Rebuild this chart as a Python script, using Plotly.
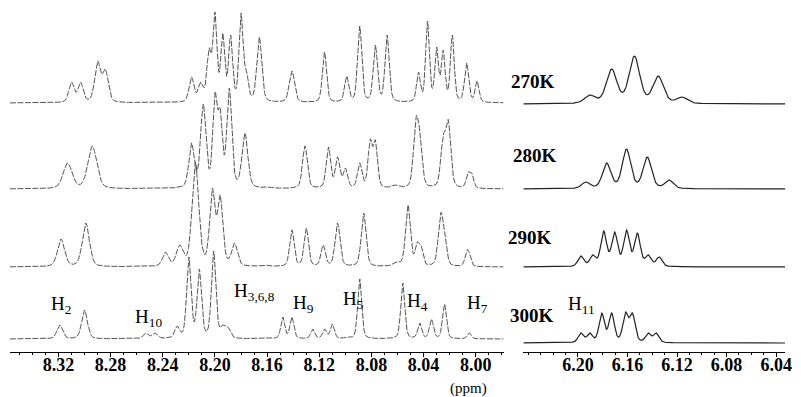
import numpy as np
import plotly.graph_objects as go

# ---------------- data (ppm, peak heights in arbitrary units) ----------------
temps = ["270K", "280K", "290K", "300K"]

# left region 8.36 - 7.98 ppm
pos_270 = [8.310, 8.303, 8.290, 8.284, 8.218, 8.211, 8.2045, 8.200, 8.194, 8.188, 8.180, 8.176,
           8.166, 8.141, 8.116, 8.099, 8.089, 8.077, 8.068, 8.044, 8.037, 8.030, 8.025, 8.018,
           8.007, 7.999]
amp_270 = [21, 21, 42, 34, 26, 21, 55, 91, 70, 68, 90, 34, 66, 32, 51, 27, 77, 58, 68, 31, 82,
           56, 53, 68, 40, 22]
wid_270 = [0.0024, 0.0024, 0.0026, 0.0026, 0.0022, 0.0022, 0.0020, 0.0018, 0.0018, 0.0018, 0.0018,
           0.0018, 0.0022, 0.0024, 0.0019, 0.0019, 0.0019, 0.0019, 0.0019, 0.0017, 0.0017, 0.0017,
           0.0017, 0.0017, 0.0019, 0.0017]

pos_280 = [8.313, 8.294, 8.218, 8.209, 8.200, 8.196, 8.189, 8.177, 8.159, 8.131, 8.113, 8.106,
           8.100, 8.089, 8.081, 8.077, 8.062, 8.046, 8.043, 8.025, 8.021, 8.006, 8.003]
amp_280 = [26, 43, 46, 85, 97, 81, 101, 56, 2, 43, 42, 32, 21, 26, 50, 49, 4, 71, 59, 54, 69,
           17, 16]
wid_280 = [0.0040, 0.0040, 0.0024, 0.0024, 0.0020, 0.0020, 0.0022, 0.0026, 0.0030, 0.0022, 0.0020,
           0.0020, 0.0020, 0.0020, 0.0019, 0.0019, 0.0030, 0.0022, 0.0022, 0.0022, 0.0022, 0.0017,
           0.0017]

pos_290 = [8.318, 8.299, 8.238, 8.227, 8.215, 8.202, 8.196, 8.185, 8.162, 8.141, 8.130, 8.117,
           8.106, 8.086, 8.061, 8.052, 8.045, 8.042, 8.027, 8.024, 8.007, 8.005]
amp_290 = [28, 44, 15, 22, 105, 79, 72, 24, 2, 37, 39, 22, 44, 54, 5, 62, 25, 22, 54, 37, 17, 14]
wid_290 = [0.0032, 0.0032, 0.0026, 0.0030, 0.0030, 0.0024, 0.0024, 0.0026, 0.0030, 0.0020, 0.0020,
           0.0020, 0.0022, 0.0022, 0.0030, 0.0022, 0.0018, 0.0018, 0.0022, 0.0020, 0.0017, 0.0017]

pos_300 = [8.319, 8.300, 8.253, 8.246, 8.229, 8.220, 8.212, 8.201, 8.194, 8.190, 8.148, 8.141,
           8.125, 8.116, 8.110, 8.099, 8.089, 8.056, 8.043, 8.034, 8.024, 8.005]
amp_300 = [14, 29, 6, 6, 13, 82, 70, 88, 14, 12, 22, 22, 10, 10, 15, 2, 60, 56, 16, 20, 35, 6]
wid_300 = [0.0026, 0.0026, 0.0024, 0.0024, 0.0022, 0.0020, 0.0020, 0.0020, 0.0022, 0.0022, 0.0018,
           0.0018, 0.0018, 0.0018, 0.0018, 0.0020, 0.0018, 0.0018, 0.0018, 0.0018, 0.0018, 0.0018]

# right region 6.24 - 6.03 ppm (H11)
pos_r270 = [6.1904, 6.1728, 6.1544, 6.1352, 6.1160]
amp_r270 = [9, 35, 48, 28, 7]
pos_r280 = [6.1936, 6.1768, 6.1608, 6.1440, 6.1264]
amp_r280 = [7, 26, 40, 32, 9]
pos_r290 = [6.1976, 6.1880, 6.1792, 6.1704, 6.1608, 6.1520, 6.1432, 6.1344]
amp_r290 = [11, 12, 36, 35, 37, 34, 12, 10]
pos_r300 = [6.1976, 6.1904, 6.1808, 6.1728, 6.1616, 6.1560, 6.1432, 6.1368]
amp_r300 = [10, 10, 30, 30, 31, 30, 10, 10]
wid_r = [0.0050, 0.0040, 0.0028, 0.0026]

left_ticks = [8.32, 8.28, 8.24, 8.20, 8.16, 8.12, 8.08, 8.04, 8.00]
right_ticks = [6.20, 6.16, 6.12, 6.08, 6.04]

labels = ["H<sub>2</sub>", "H<sub>10</sub>", "H<sub>3,6,8</sub>", "H<sub>9</sub>",
          "H<sub>5</sub>", "H<sub>4</sub>", "H<sub>7</sub>", "H<sub>11</sub>"]
label_ppm = [8.318, 8.251, 8.170, 8.132, 8.094, 8.045, 7.999, 6.197]

# ---------------- helpers ----------------
W, H = 801, 397
AX_Y = 352  # pixel row of the bottom axis line
LEFT_RANGE = [8.3572, 7.9787]
RIGHT_RANGE = [6.2440, 6.0328]


def shape(x, c, w):
    d = (x - c) / w
    lor = 1.0 / (1.0 + d * d)
    gau = np.exp(-np.log(2) * d * d)
    return 0.35 * lor + 0.65 * gau


def spectrum(x, pos, amp, wid):
    pos = np.asarray(pos, float)
    amp = np.asarray(amp, float)
    wid = np.broadcast_to(np.asarray(wid, float), pos.shape)
    M = np.array([[shape(pi, pj, wj) for pj, wj in zip(pos, wid)] for pi in pos])
    a, *_ = np.linalg.lstsq(M, amp, rcond=None)
    a = np.clip(a, 0, None)
    y = np.zeros_like(x)
    for c, A, w in zip(pos, a, wid):
        y += A * shape(x, c, w)
    return y


xl = np.linspace(LEFT_RANGE[0], LEFT_RANGE[1], 2200)
xr = np.linspace(RIGHT_RANGE[0], RIGHT_RANGE[1], 1300)

left_sets = [(pos_270, amp_270, wid_270), (pos_280, amp_280, wid_280),
             (pos_290, amp_290, wid_290), (pos_300, amp_300, wid_300)]
right_sets = [(pos_r270, amp_r270), (pos_r280, amp_r280),
              (pos_r290, amp_r290), (pos_r300, amp_r300)]
base_left = [AX_Y - 103, AX_Y - 189, AX_Y - 267, AX_Y - 339]
base_right = [AX_Y - 104, AX_Y - 189, AX_Y - 267, AX_Y - 343]

fig = go.Figure()
for i, (p, a, w) in enumerate(left_sets):
    fig.add_trace(go.Scatter(x=xl, y=base_left[i] + spectrum(xl, p, a, w), mode="lines",
                             line=dict(color="#555555", width=1, dash="6px,1.5px"),
                             xaxis="x", yaxis="y", showlegend=False, hoverinfo="skip"))
for i, (p, a) in enumerate(right_sets):
    fig.add_trace(go.Scatter(x=xr, y=base_right[i] + spectrum(xr, p, a, wid_r[i]), mode="lines",
                             line=dict(color="#222222", width=1.2),
                             xaxis="x2", yaxis="y", showlegend=False, hoverinfo="skip"))

tickfont = dict(family="Liberation Serif", size=18, color="black", weight="bold")
common_x = dict(showline=True, linecolor="black", linewidth=1.2, ticks="outside", ticklen=4,
                tickcolor="black", showgrid=False, zeroline=False, tickfont=tickfont,
                ticklabelstandoff=-8,
                minor=dict(dtick=0.01, ticks="outside", ticklen=2, tickcolor="black"))

fig.update_layout(
    width=W, height=H, margin=dict(l=0, r=0, t=0, b=H - AX_Y),
    paper_bgcolor="white", plot_bgcolor="white",
    xaxis=dict(domain=[10 / W, 508 / W], range=LEFT_RANGE, anchor="y",
               tickvals=left_ticks, ticktext=[f"{t:.2f}" for t in left_ticks], **common_x),
    xaxis2=dict(domain=[528 / W, 792 / W], range=RIGHT_RANGE, anchor="y",
                tickvals=right_ticks, ticktext=[f"{t:.2f}" for t in right_ticks], **common_x),
    yaxis=dict(range=[0, AX_Y], visible=False, fixedrange=True),
)


def py(ypix):
    return (AX_Y - ypix) / AX_Y


lab_y = [305, 318, 292, 304, 300, 302, 304, 305]
for k, (t, ppm) in enumerate(zip(labels, label_ppm)):
    fig.add_annotation(x=ppm, y=py(lab_y[k]), xref="x2" if k == 7 else "x", yref="paper",
                       xanchor="center", yanchor="middle", text=t, showarrow=False,
                       font=dict(family="Liberation Serif", size=19, color="black"))

temp_pos = [(538, 82), (540, 155), (535, 237), (537, 315)]
for t, (px, pyy) in zip(temps, temp_pos):
    fig.add_annotation(x=px / W, y=py(pyy), xref="paper", yref="paper", text=t, showarrow=False,
                       xanchor="center", yanchor="middle",
                       font=dict(family="Liberation Serif", size=19, color="black", weight="bold"))

fig.add_annotation(x=473 / W, y=py(388), xref="paper", yref="paper", text="(ppm)",
                   xanchor="center", yanchor="middle", showarrow=False,
                   font=dict(family="Liberation Serif", size=15, color="black"))

fig.write_html("out.html", config={"displayModeBar": False},
               post_script="document.body.style.margin='0px';")
